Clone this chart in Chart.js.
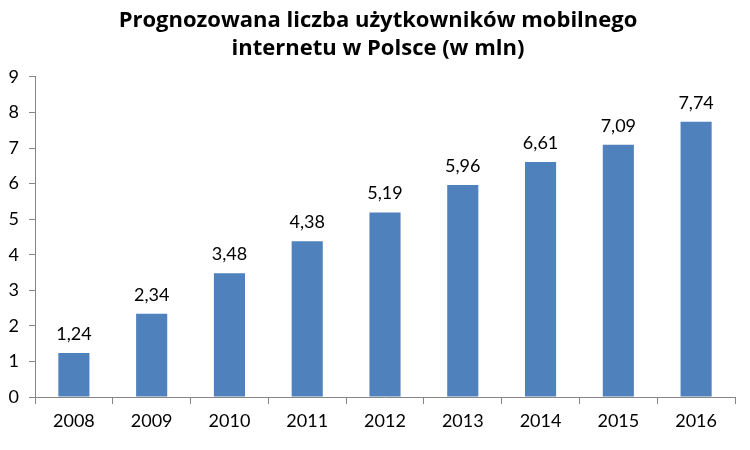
<!DOCTYPE html>
<html>
<head>
<meta charset="utf-8">
<script src="https://cdn.jsdelivr.net/npm/chart.js@4/dist/chart.umd.min.js"></script>
<style>
  html, body { margin: 0; padding: 0; background: #fff; }
  #wrap { width: 750px; height: 450px; }
</style>
</head>
<body>
<div id="wrap"><canvas id="c" width="750" height="450"></canvas></div>
<script>
// Prognoza użytkowników mobilnego internetu
const years = ['2008', '2009', '2010', '2011', '2012', '2013', '2014', '2015', '2016'];
const users = [1.24, 2.34, 3.48, 4.38, 5.19, 5.96, 6.61, 7.09, 7.74];
const titleLines = ['Prognozowana liczba użytkowników mobilnego', 'internetu w Polsce (w mln)'];

const FONT = 'Lato, "Open Sans", sans-serif';
const AXIS_COLOR = '#868686';

// labels above the bars
const valueLabels = {
    id: 'valueLabels',
    afterDatasetsDraw(chart) {
        const ctx = chart.ctx;
        const meta = chart.getDatasetMeta(0);
        ctx.save();
        ctx.fillStyle = '#000';
        ctx.font = '18px ' + FONT;
        ctx.textAlign = 'center';
        ctx.textBaseline = 'bottom';
        meta.data.forEach((bar, i) => {
            const txt = users[i].toFixed(2).replace('.', ',');
            ctx.fillText(txt, bar.x, bar.y - 10);
        });
        ctx.restore();
    }
};

// the title in the original sits a bit right of the canvas centre
const shiftTitle = {
    id: 'shiftTitle',
    afterLayout(chart) {
        if (chart.titleBlock) {
            chart.titleBlock.left = 21;
            chart.titleBlock.right = 735;
        }
    }
};

new Chart(document.getElementById('c').getContext('2d'), {
    type: 'bar',
    data: {
        labels: years,
        datasets: [{
            data: users,
            backgroundColor: '#4F81BD',
            categoryPercentage: 1,
            barPercentage: 0.4
        }]
    },
    options: {
        responsive: false,
        animation: false,
        layout: { padding: { left: 0, right: 15, top: 4, bottom: 0 } },
        plugins: {
            legend: { display: false },
            tooltip: { enabled: false },
            title: {
                display: true,
                text: titleLines,
                color: '#000',
                font: { family: '"Open Sans", sans-serif', size: 22, weight: 'bold', lineHeight: 1.27 },
                padding: { top: 3, bottom: 14 }
            }
        },
        scales: {
            x: {
                grid: { display: true, drawOnChartArea: false, offset: true, color: AXIS_COLOR, tickLength: 7 },
                border: { color: AXIS_COLOR },
                ticks: { color: '#000', font: { family: FONT, size: 18 }, padding: 6 },
                afterFit(scale) { scale.height = 53; }
            },
            y: {
                min: 0,
                max: 9,
                grid: { display: true, drawOnChartArea: false, color: AXIS_COLOR, tickLength: 6 },
                border: { color: AXIS_COLOR },
                ticks: { stepSize: 1, color: '#000', font: { family: FONT, size: 18 }, padding: 10 },
                afterFit(scale) { scale.width = 35; }
            }
        }
    },
    plugins: [valueLabels, shiftTitle]
});
</script>
</body>
</html>
